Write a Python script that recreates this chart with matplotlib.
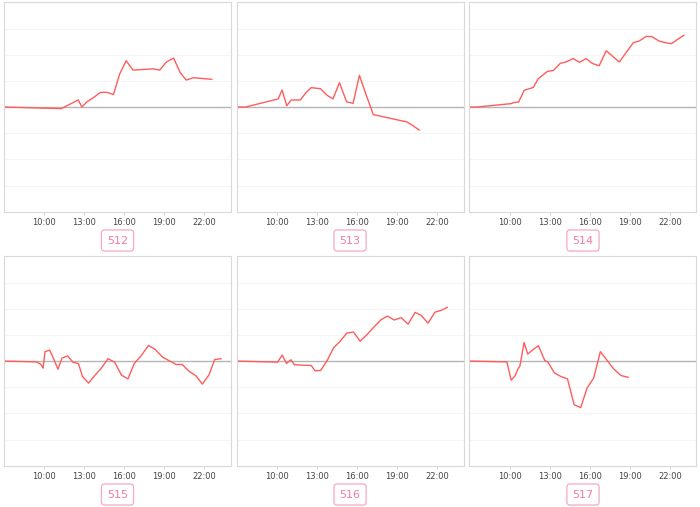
import matplotlib
matplotlib.use("Agg")
import matplotlib.pyplot as plt

# hours of day (decimal) and values per panel
labels = ["512", "513", "514", "515", "516", "517"]

x512 = [7.0, 11.29, 12.56, 12.83, 13.22, 13.7, 14.22, 14.7, 15.2, 15.66, 16.15, 16.66,
        18.17, 18.66, 19.17, 19.7, 20.2, 20.66, 21.17, 22.56]
y512 = [0, -0.06, 0.27, 0, 0.2, 0.36, 0.56, 0.56, 0.48, 1.26, 1.77, 1.41,
        1.46, 1.41, 1.72, 1.87, 1.31, 1.03, 1.12, 1.06]

x513 = [7.0, 7.68, 10.12, 10.41, 10.76, 11.1, 11.78, 12.2, 12.59, 13.29, 13.78, 14.22,
        14.71, 15.24, 15.73, 16.2, 16.71, 17.24, 19.76, 20.2, 20.68]
y513 = [0, 0, 0.31, 0.65, 0.05, 0.27, 0.27, 0.55, 0.74, 0.70, 0.45, 0.31,
        0.93, 0.2, 0.14, 1.21, 0.46, -0.29, -0.57, -0.71, -0.88]

x514 = [7.0, 7.56, 10.12, 10.41, 10.68, 11.1, 11.78, 12.15, 12.83, 13.29, 13.8, 14.22,
        14.76, 15.24, 15.73, 16.22, 16.71, 17.24, 18.22, 19.27, 19.7, 20.24, 20.66,
        21.2, 21.66, 22.12, 22.6, 23.05]
y514 = [0, 0, 0.13, 0.18, 0.19, 0.64, 0.75, 1.08, 1.36, 1.4, 1.67, 1.72,
        1.85, 1.71, 1.85, 1.66, 1.58, 2.15, 1.72, 2.46, 2.52, 2.7, 2.69,
        2.52, 2.46, 2.42, 2.59, 2.74]

x515 = [7.0, 9.43, 9.73, 9.93, 10.07, 10.42, 10.74, 11.04, 11.34, 11.76, 12.16, 12.58,
        12.88, 13.33, 13.82, 14.29, 14.79, 15.29, 15.8, 16.28, 16.77, 17.27, 17.82,
        18.31, 18.88, 19.38, 19.9, 20.35, 20.82, 21.39, 21.86, 22.36, 22.78, 23.25]
y515 = [0, -0.03, -0.11, -0.27, 0.36, 0.42, 0.06, -0.31, 0.11, 0.2, -0.04, -0.1,
        -0.59, -0.84, -0.54, -0.27, 0.09, -0.04, -0.54, -0.68, -0.08, 0.2, 0.6,
        0.45, 0.15, 0.01, -0.13, -0.13, -0.37, -0.57, -0.88, -0.52, 0.06, 0.09]

x516 = [7.0, 10.07, 10.42, 10.74, 11.07, 11.34, 12.6, 12.88, 13.3, 13.8, 14.27, 14.71,
        15.26, 15.76, 16.25, 16.77, 17.27, 17.82, 18.31, 18.81, 19.33, 19.85, 20.37,
        20.82, 21.34, 21.86, 22.33, 22.78]
y516 = [0, -0.04, 0.23, -0.09, 0.05, -0.14, -0.17, -0.37, -0.36, 0.03, 0.51, 0.73,
        1.07, 1.11, 0.76, 1.01, 1.29, 1.58, 1.72, 1.57, 1.66, 1.41, 1.86,
        1.75, 1.45, 1.87, 1.94, 2.05]

x517 = [7.0, 9.8, 10.12, 10.42, 10.62, 10.77, 11.09, 11.36, 11.74, 12.16, 12.63, 12.88,
        13.35, 13.85, 14.34, 14.84, 15.33, 15.81, 16.3, 16.8, 17.27, 17.82, 18.34, 18.88]
y517 = [0, -0.03, -0.73, -0.56, -0.31, -0.2, 0.71, 0.27, 0.43, 0.59, 0.03, -0.04,
        -0.45, -0.59, -0.68, -1.67, -1.78, -1.02, -0.65, 0.36, 0.05, -0.31, -0.55, -0.62]

series = [(x512, y512), (x513, y513), (x514, y514),
          (x515, y515), (x516, y516), (x517, y517)]

tick_hours = [10, 13, 16, 19, 22]
tick_labels = ["10:00", "13:00", "16:00", "19:00", "22:00"]

fig = plt.figure(figsize=(7, 5.07), dpi=100)
fig.patch.set_facecolor("white")

lefts = [0.0057, 0.3379, 0.6707]
bottoms = [0.5824, 0.0813]
w, h = 0.3243, 0.413
label_y = [1 - 240.5 / 507, 1 - 494.5 / 507]

for i, (lab, (xs, ys)) in enumerate(zip(labels, series)):
    r, c = divmod(i, 3)
    ax = fig.add_axes([lefts[c], bottoms[r], w, h])
    ax.set_xlim(7, 24)
    ax.set_ylim(-4, 4)
    for gy in [-3, -2, -1, 1, 2, 3]:
        ax.axhline(gy, color="#f5f5f5", lw=0.8, zorder=0)
    ax.axhline(0, color="#b5b5b5", lw=1.0, zorder=1)
    ax.plot(xs, ys, color="#ff5c5c", lw=1.0, zorder=2)
    ax.set_xticks(tick_hours)
    ax.set_xticklabels(tick_labels, fontsize=6, color="#444444")
    ax.set_yticks([])
    ax.tick_params(axis="x", length=2.5, width=0.6, color="#cccccc", pad=2)
    for s in ax.spines.values():
        s.set_color("#d9d9d9")
        s.set_linewidth(0.8)
    fig.text(lefts[c] + w / 2, label_y[r], lab, ha="center", va="center",
             fontsize=8, color="#f07ca0",
             bbox=dict(boxstyle="round,pad=0.5,rounding_size=0.3",
                       fc="white", ec="#f7a8c2", lw=0.9))

fig.savefig("out.png", dpi=100, facecolor="white")
